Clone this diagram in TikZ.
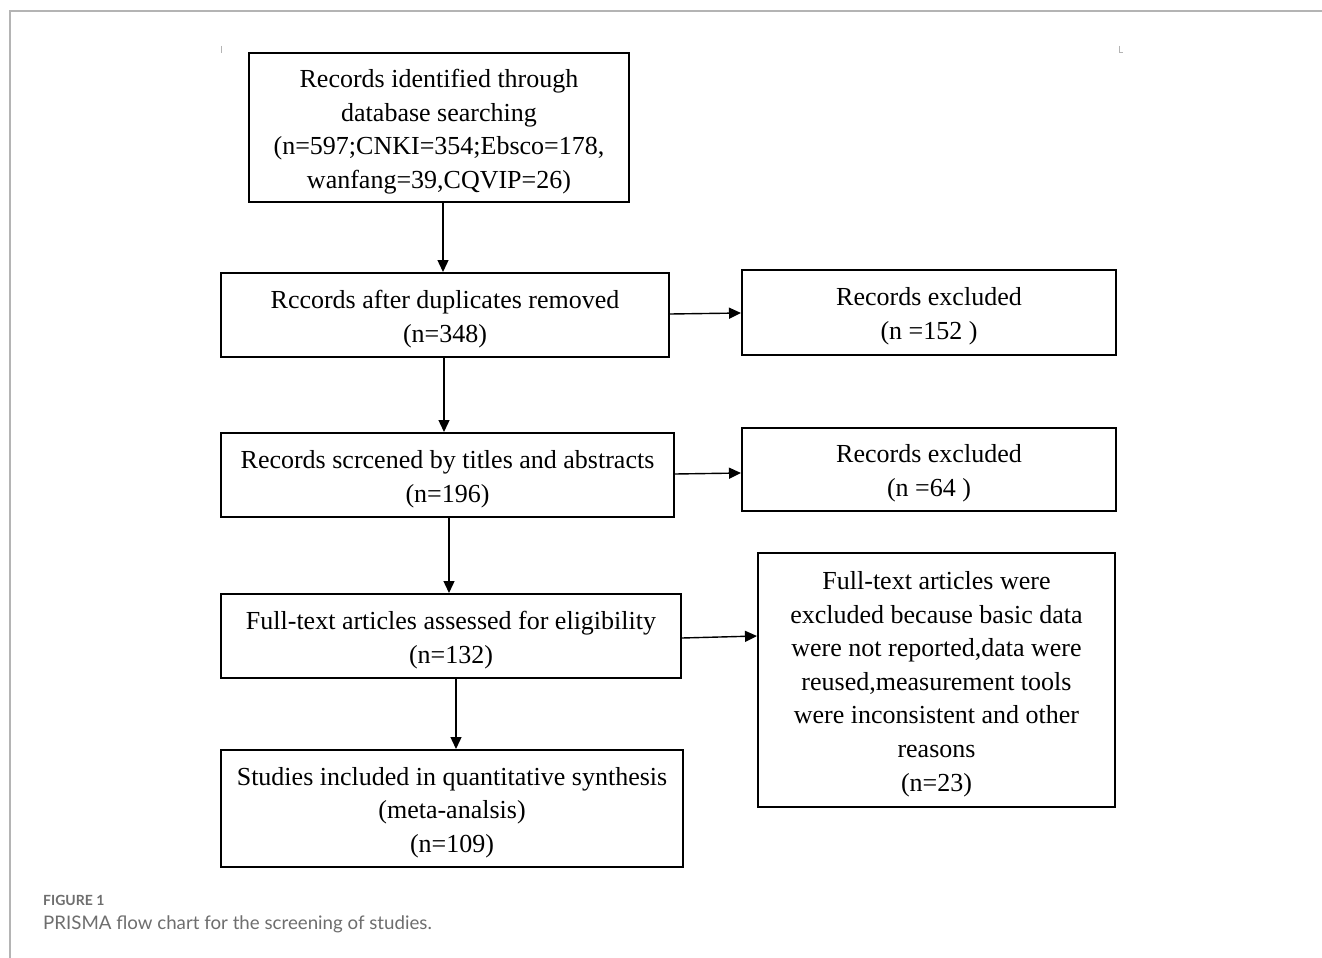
\documentclass[tikz,border=0pt]{standalone}
\usepackage{fontspec}
\setmainfont{Liberation Serif}
\newfontfamily\capfont{Lato}
\usetikzlibrary{arrows.meta,calc}
\definecolor{framegray}{HTML}{B4B4B4}
\definecolor{capgray}{HTML}{6E6E6E}
\tikzset{
  flowbox/.style={draw=black, line width=2pt, inner sep=0pt},
  flowtext/.style={inner sep=0pt, align=center,
    font=\fontsize{26}{33.6}\selectfont},
  arr/.style={draw=black, line width=1.4pt, -{Triangle[length=12pt,width=11pt]}},
  frameline/.style={draw=framegray, line width=1.6pt},
  crop/.style={draw=framegray, line width=1pt}
}
\newcommand{\mybox}[6]{%
  \node[flowbox, minimum width={(#4-#2)*1pt}, minimum height={(#5-#3)*1pt}]
    (#1) at ({(#2+#4)/2},{(#3+#5)/2}) {};
  \node[flowtext, yshift=-4pt] (#1t) at (#1.center) {#6};}
\begin{document}
\begin{tikzpicture}[x=1pt,y=-1pt]
\useasboundingbox[fill=white] (0,0) rectangle (1322,958);
% page frame
\draw[frameline] (10,958) -- (10,11) -- (1322,11);
% crop marks
\draw[crop] (221,46) -- (221,53);
\draw[crop] (1119,46) -- (1119,53) -- (1123,53);
% boxes
\mybox{b1}{249}{53}{629}{202}{Records identified through\\database searching\\(n=597;CNKI=354;Ebsco=178,\\wanfang=39,CQVIP=26)}
\mybox{b2}{221}{273}{669}{357}{Rccords after duplicates removed\\(n=348)}
\mybox{e1}{742}{270}{1116}{355}{Records excluded\\(n =152 )}
\mybox{b3}{221}{433}{674}{517}{Records scrcened by titles and abstracts\\(n=196)}
\mybox{e2}{742}{428}{1116}{511}{Records excluded\\(n =64 )}
\mybox{b4}{221}{594}{681}{678}{Full-text articles assessed for eligibility\\(n=132)}
\mybox{e3}{758}{553}{1115}{807}{Full-text articles were\\excluded because basic data\\were not reported,data were\\reused,measurement tools\\were inconsistent and other\\reasons\\(n=23)}
\mybox{b5}{221}{750}{683}{867}{Studies included in quantitative synthesis\\(meta-analsis)\\(n=109)}
% connectors
\draw[arr] (b1.south -| 443,0) -- (b2.north -| 443,0);
\draw[arr] (b2.south -| 444,0) -- (b3.north -| 444,0);
\draw[arr] (b3.south -| 449,0) -- (b4.north -| 449,0);
\draw[arr] (b4.south -| 456,0) -- (b5.north -| 456,0);
\draw[arr] (b2.east |- 0,314) -- (e1.west |- 0,313);
\draw[arr] (b3.east |- 0,474) -- (e2.west |- 0,473);
\draw[arr] (b4.east |- 0,638) -- (e3.west |- 0,636);
% caption
\node[anchor=base west, inner sep=0pt, text=capgray, font=\capfont\bfseries\fontsize{14}{16}\selectfont] (capA) at (43,905) {FIGURE 1};
\node[anchor=base west, inner sep=0pt, text=capgray, font=\capfont\fontsize{18.7}{22}\selectfont] (capB) at (43,929) {PRISMA flow chart for the screening of studies.};
\end{tikzpicture}
\end{document}
